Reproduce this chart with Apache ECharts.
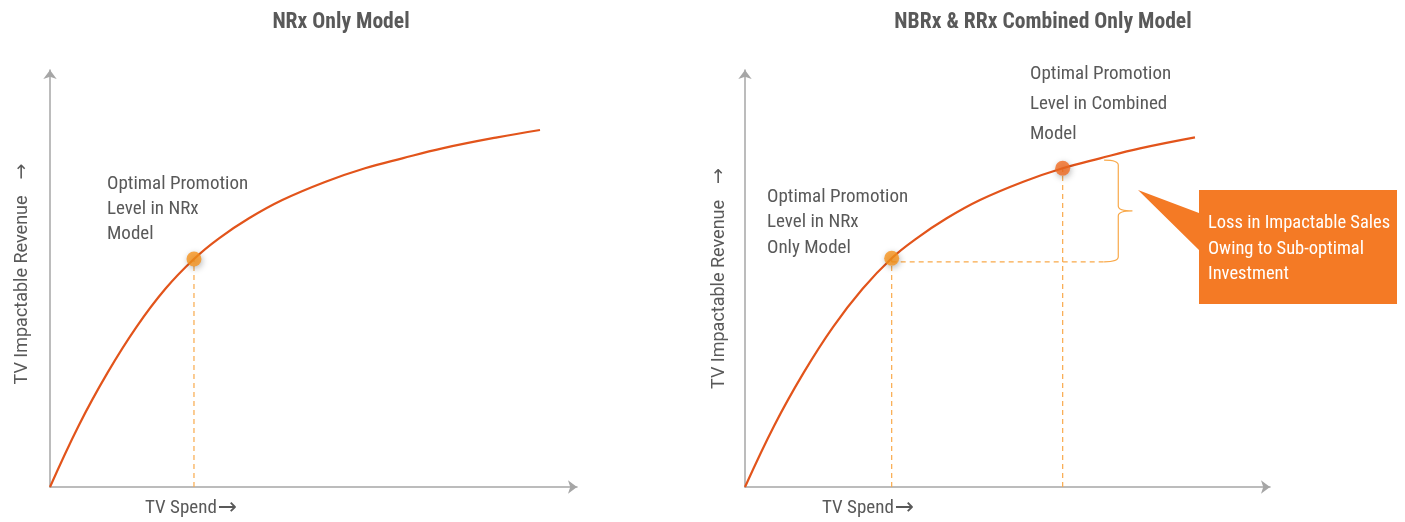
<!DOCTYPE html>
<html>
<head>
<meta charset="utf-8">
<title>TV Spend Response Curves</title>
<script src="https://cdn.jsdelivr.net/npm/echarts@6/dist/echarts.min.js"></script>
<style>
  html, body { margin: 0; padding: 0; background: #ffffff; }
  #chart { width: 1405px; height: 522px; }
</style>
</head>
<body>
<div id="chart"></div>
<script>
// Response curve of the NRx-only model: [TV spend, impactable revenue]
const nrxCurve = [
  [0, 0], [5.46, 14.77], [10.93, 27.43], [16.39, 38.35], [21.86, 47.48], [27.32, 54.68],
  [32.07, 59.64], [37.76, 64.44], [44.08, 68.82], [52.30, 73.21], [59.77, 76.43],
  [66.85, 78.82], [74.44, 81.22], [84.88, 83.86], [92.98, 85.61]
];
// Response curve of the combined NBRx & RRx model
const combinedCurve = [
  [0, 0], [5.58, 14.77], [11.18, 27.43], [16.76, 38.35], [22.36, 47.48], [27.94, 54.87],
  [32.70, 59.64], [38.42, 64.44], [44.76, 68.82], [53.01, 73.21], [60.51, 76.43],
  [67.62, 78.82], [75.24, 81.22], [85.71, 83.86]
];
// Optimal promotion levels
const nrxOptimumLeft = [27.32, 54.68];
const nrxOptimumRight = [27.94, 54.87];
const combinedOptimum = [60.51, 76.43];
// Brace marking the revenue gap: [x of stem, x of ends, x of tip, y top, y bottom]
const gapBrace = [71.1, 68.4, 73.8, 78.4, 54.0];
// Level of the NRx optimum carried across to the brace
const gapBaseline = 54.0;

const titles = ['NRx Only Model', 'NBRx & RRx Combined Only Model'];
const xNameText = 'TV Spend';
const yNameText = 'TV Impactable Revenue';
const arrow = '\u2192';
const labelNrxLeft = 'Optimal Promotion\nLevel in NRx\nModel';
const labelNrxRight = 'Optimal Promotion\nLevel in NRx\nOnly Model';
const labelCombined = 'Optimal Promotion\nLevel in Combined\nModel';
const calloutText = 'Loss in Impactable Sales\nOwing to Sub-optimal\nInvestment';

const NARROW = "'Roboto Condensed', 'Liberation Sans Narrow', 'Arial Narrow', 'DejaVu Sans Condensed', sans-serif";
const ARROW_FONT = "'DejaVu Sans', sans-serif";
const AXIS = '#a6a6a6';
const CURVE = '#e2541b';
const DASH = '#f9a94a';
const TEXT = '#595959';

const chart = echarts.init(document.getElementById('chart'), null, { renderer: 'canvas' });

function axisPair(gridIndex, namePad) {
  const line = {
    show: true,
    symbol: ['none', 'arrow'],
    symbolSize: [10, 9],
    lineStyle: { color: AXIS, width: 1.5 }
  };
  return {
    x: {
      type: 'value', gridIndex, min: 0, max: 100,
      axisLine: line, axisTick: { show: false }, axisLabel: { show: false },
      splitLine: { show: false }
    },
    y: {
      type: 'value', gridIndex, min: 0, max: 100,
      axisLine: line, axisTick: { show: false }, axisLabel: { show: false },
      splitLine: { show: false },
      name: '{t|' + yNameText + '}{a|' + arrow + '}',
      nameLocation: 'middle', nameRotate: 90, nameGap: 18,
      nameTextStyle: {
        padding: [0, 0, 0, namePad],
        rich: {
          t: { fontFamily: "Roboto, 'Open Sans', sans-serif", fontSize: 18, color: TEXT, padding: [0, 16, 0, 0] },
          a: { fontFamily: ARROW_FONT, fontSize: 19, color: TEXT }
        }
      }
    }
  };
}
const a0 = axisPair(0, 9), a1 = axisPair(1, 0);
a1.y.nameGap = 16;

function dashed(points, idx) {
  return {
    type: 'line', xAxisIndex: idx, yAxisIndex: idx, data: points,
    symbol: 'none', silent: true, z: 1,
    lineStyle: { color: DASH, width: 1.2, type: [5, 4] }
  };
}
function curve(points, idx) {
  return {
    type: 'line', xAxisIndex: idx, yAxisIndex: idx, data: points,
    symbol: 'none', smooth: 0.4, z: 2,
    lineStyle: { color: CURVE, width: 2.2 }
  };
}
function optimum(point, idx, color) {
  return {
    type: 'scatter', xAxisIndex: idx, yAxisIndex: idx, data: [point],
    symbolSize: 15, z: 3,
    itemStyle: {
      color, shadowBlur: 6, shadowColor: 'rgba(0,0,0,0.35)',
      shadowOffsetX: 1, shadowOffsetY: 2
    }
  };
}
function spendLabel(left) {
  return {
    type: 'text', left, top: 497,
    style: {
      text: '{t|' + xNameText + '}{a|' + arrow + '}',
      rich: {
        t: { fontFamily: NARROW, fontSize: 19, fill: TEXT, padding: [0, 1, 0, 0] },
        a: { fontFamily: ARROW_FONT, fontSize: 23, fill: TEXT }
      }
    }
  };
}

const titleStyle = { fontFamily: NARROW, fontWeight: 'bold', fontSize: 21.6, color: TEXT };

const option = {
  animation: false,
  backgroundColor: '#ffffff',
  title: [
    { text: titles[0], left: 336, top: 7, textAlign: 'center', textStyle: titleStyle },
    { text: titles[1], left: 1038, top: 7, textAlign: 'center', textStyle: titleStyle }
  ],
  grid: [
    { left: 50, top: 70, width: 527, height: 417 },
    { left: 745, top: 70, width: 525, height: 417 }
  ],
  xAxis: [a0.x, a1.x],
  yAxis: [a0.y, a1.y],
  series: [
    // Left panel
    dashed([[nrxOptimumLeft[0], 0], nrxOptimumLeft], 0),
    curve(nrxCurve, 0),
    optimum(nrxOptimumLeft, 0, '#f7941d'),
    // Right panel
    dashed([[nrxOptimumRight[0], 0], nrxOptimumRight], 1),
    dashed([[combinedOptimum[0], 0], combinedOptimum], 1),
    dashed([[nrxOptimumRight[0], gapBaseline], [gapBrace[1], gapBaseline]], 1),
    curve(combinedCurve, 1),
    optimum(nrxOptimumRight, 1, '#f7941d'),
    optimum(combinedOptimum, 1, '#f26b21'),
    {
      // Curly brace spanning the revenue gap
      type: 'custom', xAxisIndex: 1, yAxisIndex: 1, data: [gapBrace], z: 2, silent: true,
      renderItem: function (params, api) {
        const stem = api.value(0), ends = api.value(1), tip = api.value(2);
        const yTop = api.value(3), yBot = api.value(4);
        const yMid = (yTop + yBot) / 2;
        const pTop = api.coord([stem, yTop]);
        const pBot = api.coord([stem, yBot]);
        const pEnd = api.coord([ends, yTop]);
        const pTip = api.coord([tip, yMid]);
        const sx = pTop[0], ex = pEnd[0], tx = pTip[0];
        const t = pTop[1], b = pBot[1], m = pTip[1];
        const r = 5;
        const d = [
          'M', ex, t,
          'Q', sx, t, sx, t + r,
          'L', sx, m - r,
          'Q', sx, m, tx, m,
          'Q', sx, m, sx, m + r,
          'L', sx, b - r,
          'Q', sx, b, ex, b
        ].join(' ');
        return {
          type: 'path',
          shape: { pathData: d },
          style: { fill: null, stroke: DASH, lineWidth: 1.2 }
        };
      }
    }
  ],
  graphic: [
    spendLabel(145),
    spendLabel(822),
    { type: 'text', left: 107, top: 172,
      style: { text: labelNrxLeft, fontFamily: NARROW, fontSize: 19, lineHeight: 25, fill: TEXT } },
    { type: 'text', left: 767, top: 184,
      style: { text: labelNrxRight, fontFamily: NARROW, fontSize: 19, lineHeight: 25.5, fill: TEXT } },
    { type: 'text', left: 1030, top: 59,
      style: { text: labelCombined, fontFamily: NARROW, fontSize: 19, lineHeight: 30, fill: TEXT } },
    // Callout box with pointer
    { type: 'polygon', z: 10,
      shape: { points: [[1138, 190], [1199, 213], [1199, 190], [1397, 190], [1397, 304], [1199, 304], [1199, 250]] },
      style: { fill: '#f47a25' } },
    { type: 'text', left: 1208, top: 211, z: 11,
      style: { text: calloutText, fontFamily: NARROW, fontSize: 18.5, lineHeight: 25.5, fill: '#ffffff' } }
  ]
};

chart.setOption(option);
</script>
</body>
</html>
